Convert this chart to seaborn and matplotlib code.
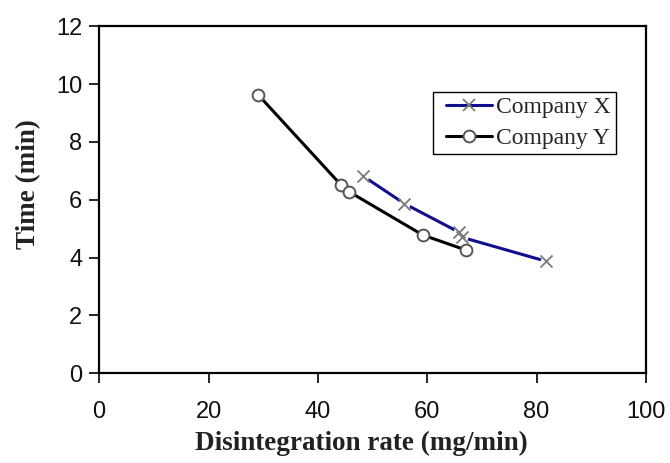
import matplotlib
matplotlib.use("Agg")
import matplotlib.pyplot as plt
from matplotlib.lines import Line2D
from matplotlib.legend_handler import HandlerLine2D
import seaborn as sns
import pandas as pd

# Data
x_rate = [48.2, 55.8, 65.9, 66.4, 81.8]
x_time = [6.83, 5.87, 4.87, 4.70, 3.87]
y_rate = [29.1, 44.3, 45.7, 59.2, 67.1]
y_time = [9.63, 6.50, 6.28, 4.78, 4.26]
series_names = ["Company X", "Company Y"]
x_ticks = [0, 20, 40, 60, 80, 100]
y_ticks = [0, 2, 4, 6, 8, 10, 12]

sns.set_theme(style="white")
plt.rcParams['font.family'] = ['Liberation Sans', 'DejaVu Sans']

fig = plt.figure(figsize=(6.7, 4.63), dpi=100)
ax = fig.add_axes([0.148, 0.194, 0.816, 0.749])

dfx = pd.DataFrame({"rate": x_rate, "time": x_time})
dfy = pd.DataFrame({"rate": y_rate, "time": y_time})

blue = "#10108e"
xgray = "#7a7a7a"
cgray = "#555555"

# Company X: line, white halo to break the line at markers, then x markers
sns.lineplot(data=dfx, x="rate", y="time", ax=ax, color=blue, lw=2.2,
             sort=False, zorder=2)
sns.scatterplot(data=dfx, x="rate", y="time", ax=ax, color="white",
                marker="o", s=70, linewidth=0, zorder=3)
sns.scatterplot(data=dfx, x="rate", y="time", ax=ax, color=xgray,
                marker="x", s=75, linewidth=1.3, zorder=4)

# Company Y: line with open circle markers
sns.lineplot(data=dfy, x="rate", y="time", ax=ax, color="black", lw=2.2,
             marker="o", markersize=8.5, markerfacecolor="white",
             markeredgecolor=cgray, markeredgewidth=1.4, sort=False, zorder=5)

ax.set_xlim(0, 100)
ax.set_ylim(0, 12)
ax.set_xticks(x_ticks)
ax.set_yticks(y_ticks)
ax.set_xticklabels([str(t) for t in x_ticks])
ax.set_yticklabels([str(t) for t in y_ticks])
ax.tick_params(axis="both", which="major", direction="out", length=7, width=1.2,
               color="black", labelsize=17, labelcolor="#111111",
               bottom=True, left=True)
ax.tick_params(axis="x", pad=13)
ax.tick_params(axis="y", pad=5)
for s in ax.spines.values():
    s.set_color("black")
    s.set_linewidth(1.6)

serif = ['Liberation Serif', 'DejaVu Serif']
ax.set_xlabel("Disintegration rate (mg/min)", family=serif, fontweight="bold",
              fontsize=19.5, color="#222222", labelpad=6, x=0.479)
ax.set_ylabel("Time (min)", family=serif, fontweight="bold",
              fontsize=19.5, color="#222222", labelpad=11, y=0.545)
ax.grid(False)

handles = [
    Line2D([], [], color=blue, lw=2.2, marker="x", markersize=8.5,
           markeredgecolor=xgray, markeredgewidth=1.3),
    Line2D([], [], color="black", lw=2.2, marker="o", markersize=8.5,
           markerfacecolor="white", markeredgecolor=cgray, markeredgewidth=1.4),
]
hmap = {h: HandlerLine2D(xpad=0.36) for h in handles}
leg = ax.legend(handles, series_names, loc="upper left",
                bbox_to_anchor=(0.611, 0.811), handler_map=hmap,
                prop={'family': serif, 'size': 17}, frameon=True,
                fancybox=False, edgecolor="black", framealpha=1,
                handlelength=2.27, handletextpad=0.21, borderpad=0.2,
                labelspacing=0.4, borderaxespad=0)
leg.get_frame().set_linewidth(1.0)

fig.savefig("out.png", dpi=100, facecolor="white")
